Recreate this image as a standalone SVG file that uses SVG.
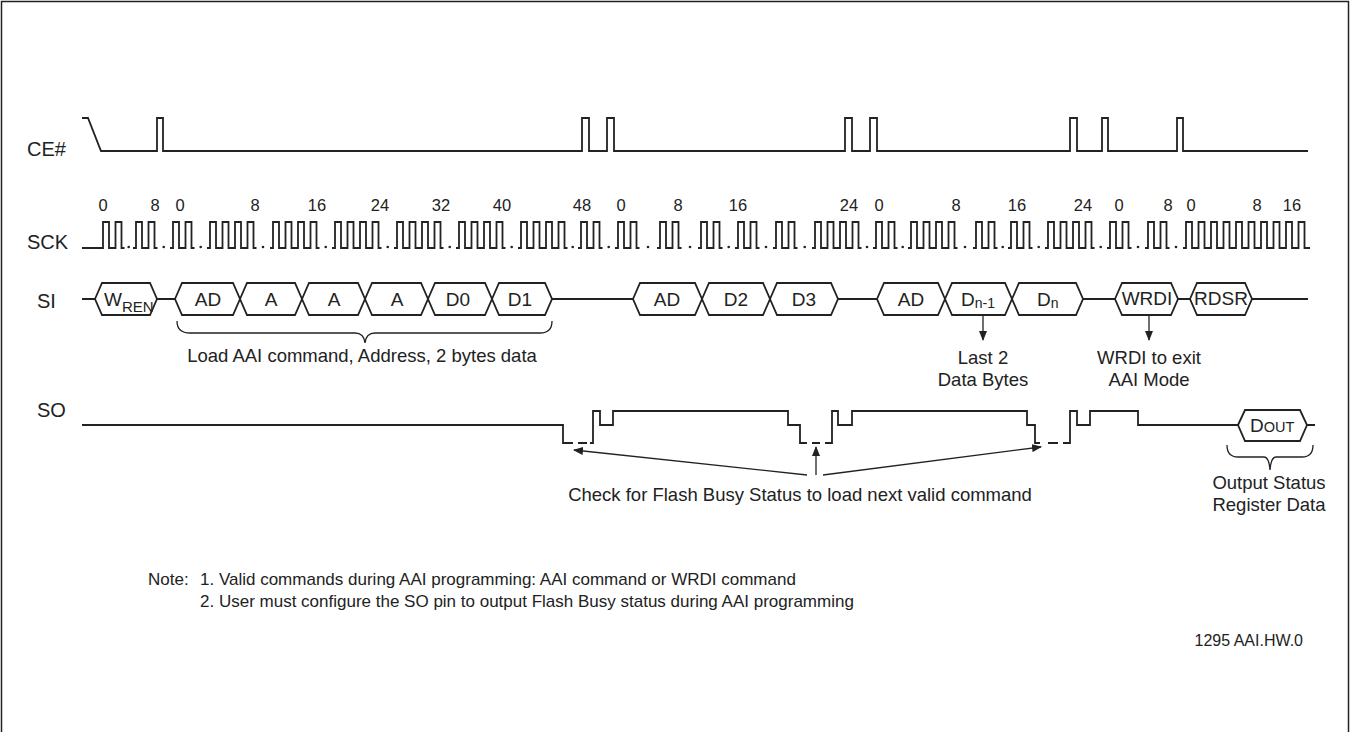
<svg xmlns="http://www.w3.org/2000/svg" width="1350" height="732" viewBox="0 0 1350 732">
<style>
.w{fill:none;stroke:#222;stroke-width:1.8;stroke-linejoin:miter}
.t{font-family:"Liberation Sans",Arial,sans-serif;fill:#222}
.lab{font-size:20px}
.num{font-size:16.5px;text-anchor:middle}
.box{font-size:19px;text-anchor:middle}
.ann{font-size:18.5px;text-anchor:middle}
.note{font-size:17px}
.hx{fill:#fff;stroke:#222;stroke-width:1.8}
.ar{fill:none;stroke:#222;stroke-width:1.3}
</style>
<defs>
<marker id="ah" markerWidth="10" markerHeight="8" refX="9" refY="4" orient="auto" markerUnits="userSpaceOnUse">
<path d="M0,0 L10,4 L0,8 Z" fill="#222"/>
</marker>
</defs>
<rect width="1350" height="732" fill="#fff"/>
<path d="M1.5,733 V1.5 H1348.5 V733" fill="none" stroke="#222" stroke-width="1.5"/>

<g id="labels" class="t lab">
<text x="27" y="156">CE#</text>
<text x="27" y="249">SCK</text>
<text x="37" y="308">SI</text>
<text x="37" y="417">SO</text>
</g>

<g id="ce">
<path class="w" d="M82,118 H88 L101,151 H157 V118 H163 V151 H582 V118 H589 V151 H607 V118 H614 V151 H845 V118 H852 V151 H870 V118 H877 V151 H1070 V118 H1077 V151 H1102 V118 H1108 V151 H1177 V118 H1183 V151 H1308"/>
</g>

<g id="sck">
<path class="w" d="M82 248 h21 v-26 h6 v26 h6.5 v-26 h6 v26 h3
M133 248 h3 v-26 h6 v26 h6.5 v-26 h6 v26 h3
M170 248 h3 v-26 h6 v26 h6.5 v-26 h6 v26 h3
M207 248 h3 v-26 h6 v26 h6.5 v-26 h6 v26 h6.5 v-26 h6 v26 h6.5 v-26 h6 v26 h3
M270 248 h3 v-26 h6 v26 h6.5 v-26 h6 v26 h6.5 v-26 h6 v26 h6.5 v-26 h6 v26 h3
M332 248 h3 v-26 h6 v26 h6.5 v-26 h6 v26 h6.5 v-26 h6 v26 h6.5 v-26 h6 v26 h3
M394 248 h3 v-26 h6 v26 h6.5 v-26 h6 v26 h6.5 v-26 h6 v26 h6.5 v-26 h6 v26 h3
M456 248 h3 v-26 h6 v26 h6.5 v-26 h6 v26 h6.5 v-26 h6 v26 h6.5 v-26 h6 v26 h3
M518 248 h3 v-26 h6 v26 h6.5 v-26 h6 v26 h6.5 v-26 h6 v26 h6.5 v-26 h6 v26 h3
M578 248 h3 v-26 h6 v26 h6.5 v-26 h6 v26 h3
M615 248 h3 v-26 h6 v26 h6.5 v-26 h6 v26 h3
M657 248 h3 v-26 h6 v26 h6.5 v-26 h6 v26 h3
M698 248 h3 v-26 h6 v26 h6.5 v-26 h6 v26 h3
M735 248 h3 v-26 h6 v26 h6.5 v-26 h6 v26 h3
M773 248 h3 v-26 h6 v26 h6.5 v-26 h6 v26 h3
M812 248 h3 v-26 h6 v26 h6.5 v-26 h6 v26 h6.5 v-26 h6 v26 h6.5 v-26 h6 v26 h3
M873 248 h3 v-26 h6 v26 h6.5 v-26 h6 v26 h3
M908 248 h3 v-26 h6 v26 h6.5 v-26 h6 v26 h6.5 v-26 h6 v26 h6.5 v-26 h6 v26 h3
M973 248 h3 v-26 h6 v26 h6.5 v-26 h6 v26 h3
M1008 248 h3 v-26 h6 v26 h6.5 v-26 h6 v26 h3
M1045 248 h3 v-26 h6 v26 h6.5 v-26 h6 v26 h6.5 v-26 h6 v26 h6.5 v-26 h6 v26 h3
M1107 248 h3 v-26 h6 v26 h6.5 v-26 h6 v26 h3
M1145 248 h3 v-26 h6 v26 h6.5 v-26 h6 v26 h3
M1183 248 h3 v-26 h6 v26 h6.5 v-26 h6 v26 h6.5 v-26 h6 v26 h6.5 v-26 h6 v26 h6.5 v-26 h6 v26 h6.5 v-26 h6 v26 h6.5 v-26 h6 v26 h6.5 v-26 h6 v26 h6.5 v-26 h6 v26 h6.5 v-26 h6 v26 H1310"/>
<g fill="#222">
<circle cx="128.7" cy="247" r="1.3"/><circle cx="163.7" cy="247" r="1.3"/><circle cx="200.7" cy="247" r="1.3"/><circle cx="263" cy="247" r="1.3"/><circle cx="325.7" cy="247" r="1.3"/><circle cx="387.7" cy="247" r="1.3"/><circle cx="449.7" cy="247" r="1.3"/><circle cx="511.7" cy="247" r="1.3"/><circle cx="572.7" cy="247" r="1.3"/><circle cx="608.7" cy="247" r="1.3"/><circle cx="648" cy="247" r="1.3"/><circle cx="690" cy="247" r="1.3"/><circle cx="728.7" cy="247" r="1.3"/><circle cx="766" cy="247" r="1.3"/><circle cx="804.7" cy="247" r="1.3"/><circle cx="867" cy="247" r="1.3"/><circle cx="902.7" cy="247" r="1.3"/><circle cx="965" cy="247" r="1.3"/><circle cx="1002.7" cy="247" r="1.3"/><circle cx="1038.7" cy="247" r="1.3"/><circle cx="1100.7" cy="247" r="1.3"/><circle cx="1138" cy="247" r="1.3"/><circle cx="1176" cy="247" r="1.3"/>
</g>
<g class="t num">
<text x="103" y="211">0</text><text x="155" y="211">8</text><text x="180" y="211">0</text><text x="255" y="211">8</text><text x="317" y="211">16</text><text x="380" y="211">24</text><text x="441" y="211">32</text><text x="502" y="211">40</text><text x="582" y="211">48</text><text x="621" y="211">0</text><text x="678" y="211">8</text><text x="738" y="211">16</text><text x="849" y="211">24</text><text x="879" y="211">0</text><text x="956" y="211">8</text><text x="1017" y="211">16</text><text x="1083" y="211">24</text><text x="1119" y="211">0</text><text x="1168" y="211">8</text><text x="1191" y="211">0</text><text x="1257" y="211">8</text><text x="1292" y="211">16</text>
</g>
</g>

<g id="si">
<path class="w" d="M82,299 H95 M157,299 H175 M552,299 H633 M838,299 H877 M1083,299 H1115 M1178,299 H1190 M1252,299 H1308"/>
<g id="si-wren"><polygon class="hx" points="95,299 102,283 150,283 157,299 150,315 102,315"/><text class="t" x="104" y="306" font-size="19">W</text><text class="t" x="122" y="312" font-size="15">REN</text></g>
<g id="si-ad1"><polygon class="hx" points="175,299 182,283 233,283 240,299 233,315 182,315"/><text class="t box" x="208" y="306">AD</text></g>
<g id="si-a1"><polygon class="hx" points="240,299 247,283 295,283 302,299 295,315 247,315"/><text class="t box" x="271" y="306">A</text></g>
<g id="si-a2"><polygon class="hx" points="302,299 309,283 358,283 365,299 358,315 309,315"/><text class="t box" x="334" y="306">A</text></g>
<g id="si-a3"><polygon class="hx" points="365,299 372,283 421,283 428,299 421,315 372,315"/><text class="t box" x="397" y="306">A</text></g>
<g id="si-d0"><polygon class="hx" points="428,299 435,283 485,283 492,299 485,315 435,315"/><text class="t box" x="458" y="306">D0</text></g>
<g id="si-d1"><polygon class="hx" points="492,299 499,283 545,283 552,299 545,315 499,315"/><text class="t box" x="520" y="306">D1</text></g>
<g id="si-ad2"><polygon class="hx" points="633,299 640,283 695,283 702,299 695,315 640,315"/><text class="t box" x="667" y="306">AD</text></g>
<g id="si-d2"><polygon class="hx" points="702,299 709,283 763,283 770,299 763,315 709,315"/><text class="t box" x="736" y="306">D2</text></g>
<g id="si-d3"><polygon class="hx" points="770,299 777,283 831,283 838,299 831,315 777,315"/><text class="t box" x="804" y="306">D3</text></g>
<g id="si-ad3"><polygon class="hx" points="877,299 884,283 938,283 945,299 938,315 884,315"/><text class="t box" x="911" y="306">AD</text></g>
<g id="si-dn1"><polygon class="hx" points="945,299 952,283 1005,283 1012,299 1005,315 952,315"/><text class="t" x="961" y="306" font-size="19">D<tspan font-size="14" dy="2">n-1</tspan></text></g>
<g id="si-dn"><polygon class="hx" points="1012,299 1019,283 1076,283 1083,299 1076,315 1019,315"/><text class="t" x="1037" y="306" font-size="19">D<tspan font-size="14" dy="2">n</tspan></text></g>
<g id="si-wrdi"><polygon class="hx" points="1115,299 1122,283 1171,283 1178,299 1171,315 1122,315"/><text class="t box" x="1147" y="305" font-size="16.5">WRDI</text></g>
<g id="si-rdsr"><polygon class="hx" points="1190,299 1197,283 1245,283 1252,299 1245,315 1197,315"/><text class="t box" x="1221" y="305" font-size="16.5">RDSR</text></g>
</g>

<g id="so">
<path class="w" d="M82,425 H563 V443 H573 M578,443 H587 M590,443 H593 V411 H600 V425 H613 V411 H788 V425 H800 V443 H807 M812,443 H820 M825,443 H832 V411 H838 V425 H852 V411 H1027 V425 H1035 V443 H1040 M1048,443 H1058 M1063,443 H1070 V411 H1077 V425 H1090 V411 H1138 V425 H1238 M1307,425 H1315"/>
<g id="so-dout"><polygon class="hx" points="1238,425 1245,410 1300,410 1307,425 1300,441 1245,441"/><text class="t" x="1250" y="432" font-size="19">D<tspan font-size="14.5">OUT</tspan></text></g>
</g>

<g id="annotations">
<path class="ar" d="M177,321 Q177,333 190,333 H355 Q364,333 365,343 Q366,333 375,333 H540 Q552,333 552,321"/>
<text class="t ann" x="362" y="362" font-size="18">Load AAI command, Address, 2 bytes data</text>
<line class="ar" x1="983" y1="315" x2="983" y2="340" marker-end="url(#ah)"/>
<text class="t ann" x="983" y="364">Last 2</text>
<text class="t ann" x="983" y="386">Data Bytes</text>
<line class="ar" x1="1149" y1="315" x2="1149" y2="340" marker-end="url(#ah)"/>
<text class="t ann" x="1149" y="364">WRDI to exit</text>
<text class="t ann" x="1149" y="386">AAI Mode</text>
<line class="ar" x1="807" y1="475" x2="574" y2="450" marker-end="url(#ah)"/>
<line class="ar" x1="816" y1="475" x2="816" y2="447" marker-end="url(#ah)"/>
<line class="ar" x1="823" y1="475" x2="1041" y2="447" marker-end="url(#ah)"/>
<text class="t ann" x="800" y="501">Check for Flash Busy Status to load next valid command</text>
<path class="ar" d="M1227,445 Q1227,457 1238,457 H1264 Q1269,457 1270,470 Q1271,457 1276,457 H1302 Q1313,457 1313,445"/>
<text class="t ann" x="1269" y="489" font-size="17.5">Output Status</text>
<text class="t ann" x="1269" y="511" font-size="17.5">Register Data</text>
</g>

<g id="notes" class="t note">
<text x="148" y="585">Note:</text>
<text x="200" y="585">1. Valid commands during AAI programming: AAI command or WRDI command</text>
<text x="200" y="607">2. User must configure the SO pin to output Flash Busy status during AAI programming</text>
<text x="1303" y="646" font-size="16" text-anchor="end">1295 AAI.HW.0</text>
</g>
</svg>
